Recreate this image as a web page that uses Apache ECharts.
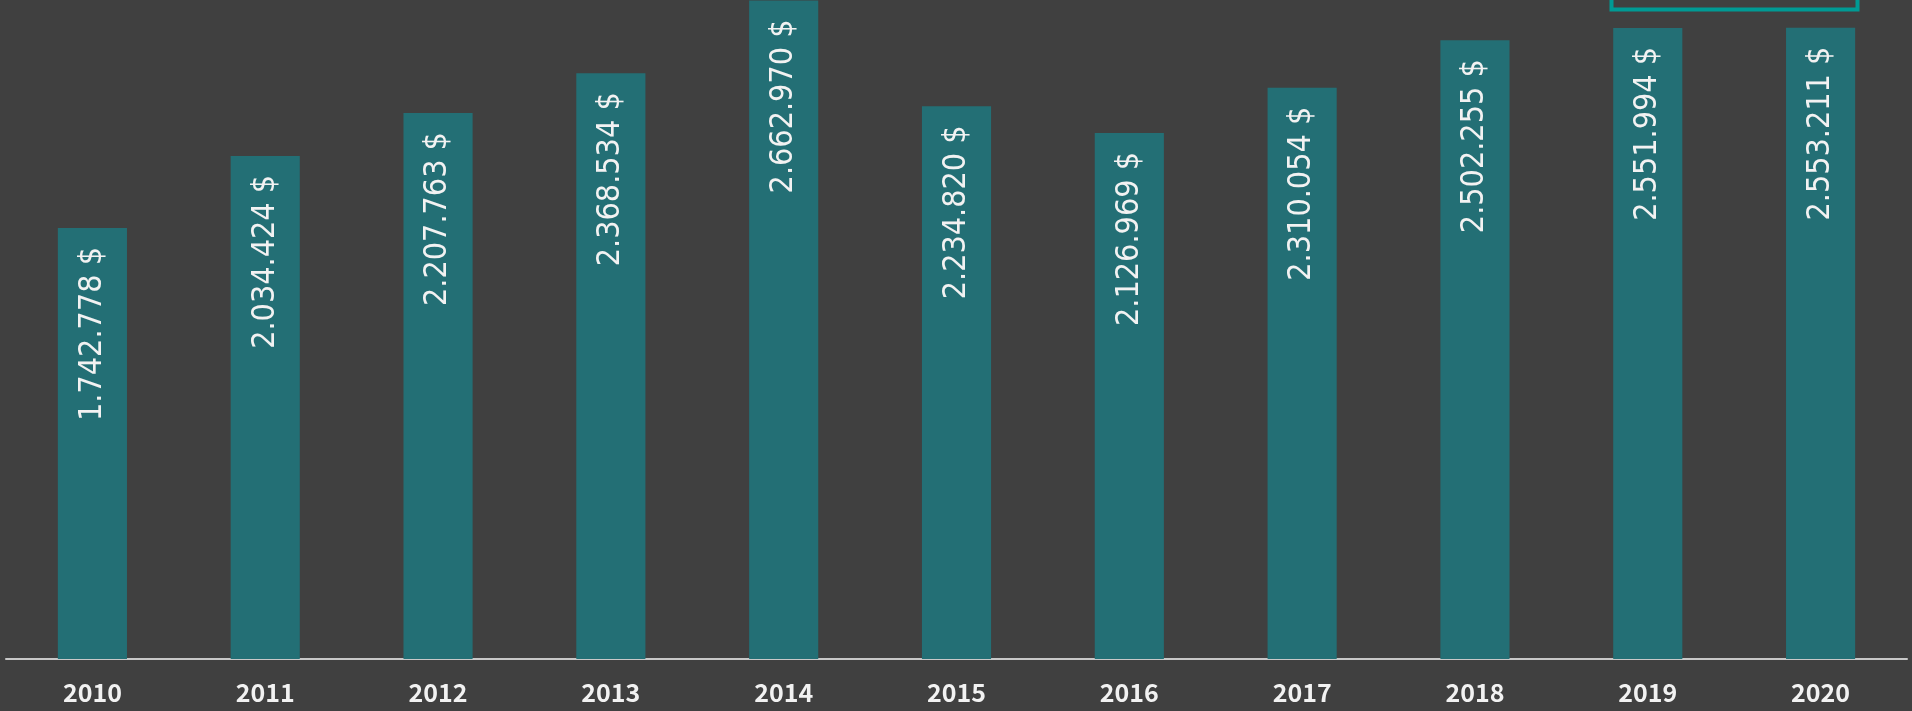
<!DOCTYPE html>
<html>
<head>
<meta charset="utf-8">
<script src="https://cdn.jsdelivr.net/npm/echarts@6/dist/echarts.min.js"></script>
<style>
  html, body { margin: 0; padding: 0; background: #404040; }
  #chart { width: 1912px; height: 711px; }
</style>
</head>
<body>
<div id="chart"></div>
<script>
// years and yearly totals
const years = ["2010", "2011", "2012", "2013", "2014", "2015", "2016", "2017", "2018", "2019", "2020"];
const totals = [1742778, 2034424, 2207763, 2368534, 2662970, 2234820, 2126969, 2310054, 2502255, 2551994, 2553211];

// 1742778 -> "1.742.778 $"
function fmt(v) {
  return String(v).replace(/\B(?=(\d{3})+(?!\d))/g, ".") + " $";
}

const chart = echarts.init(document.getElementById("chart"));
chart.setOption({
  backgroundColor: "#404040",
  animation: false,
  grid: { left: 6, right: 5, top: 0, bottom: 52 },
  xAxis: {
    type: "category",
    data: years,
    axisLine: { lineStyle: { color: "#c8c8c8", width: 2 } },
    axisTick: { show: false },
    axisLabel: {
      color: "#f2f2f2",
      fontSize: 25,
      fontWeight: "bold",
      fontFamily: "Noto Sans CJK JP",
      margin: 21
    }
  },
  yAxis: {
    type: "value",
    min: 0,
    max: 2665000,
    show: false
  },
  series: [
    {
      type: "bar",
      data: totals,
      barWidth: "40%",
      itemStyle: { color: "#236f75" },
      label: {
        show: true,
        position: "insideTop",
        rotate: 90,
        align: "right",
        verticalAlign: "middle",
        distance: 19,
        color: "#f2f2f2",
        fontSize: 32,
        fontFamily: "'DejaVu Sans Condensed', 'DejaVu Sans'",
        formatter: p => fmt(p.value)
      }
    }
  ],
  // outline box at the top right, cut by the top edge
  graphic: [
    {
      type: "rect",
      shape: { x: 1611.5, y: -40, width: 246, height: 49.5 },
      style: { fill: "none", stroke: "#009a94", lineWidth: 4 }
    }
  ]
});
</script>
</body>
</html>
